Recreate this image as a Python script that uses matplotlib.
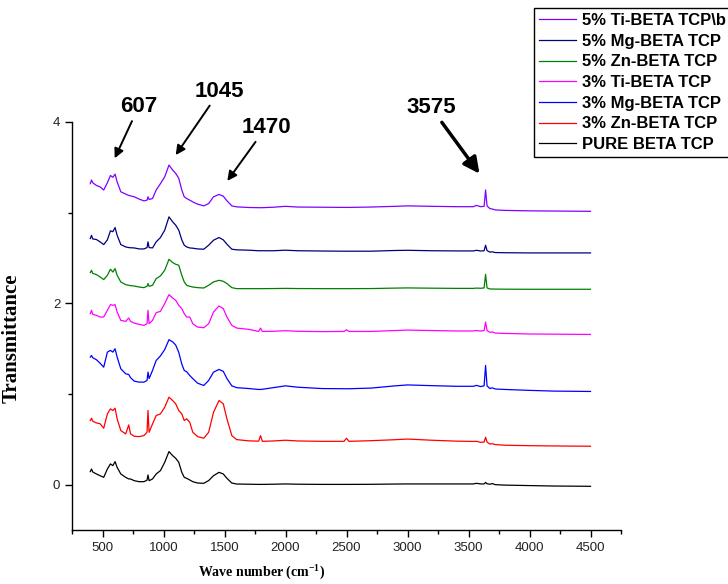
import matplotlib.pyplot as plt
from matplotlib.ticker import MultipleLocator

plt.rcParams['mathtext.fontset'] = 'custom'
plt.rcParams['mathtext.rm'] = 'Liberation Serif:bold'
plt.rcParams['mathtext.bf'] = 'Liberation Serif:bold'

# wave numbers (cm-1) shared by all spectra
wn = [400, 410, 420, 450, 480, 510, 540, 565, 585, 603,
      620, 650, 690, 715, 730, 760, 800, 840, 865, 873,
      882, 910, 940, 975, 1010, 1045, 1075, 1100, 1125, 1150,
      1170, 1190, 1215, 1240, 1280, 1330, 1370, 1410, 1455, 1490,
      1520, 1560, 1600, 1700, 1780, 1795, 1810, 1900, 2000, 2100,
      2300, 2480, 2500, 2520, 2700, 2900, 3000, 3200, 3400, 3540,
      3565, 3600, 3628, 3640, 3652, 3675, 3695, 3720, 3800, 4000,
      4200, 4500]

# stacked transmittance curves, as plotted
ti5 = [3.32, 3.36, 3.33, 3.30, 3.285, 3.25, 3.33, 3.41, 3.39, 3.425,
       3.34, 3.23, 3.205, 3.19, 3.185, 3.175, 3.15, 3.13, 3.138, 3.175,
       3.145, 3.156, 3.25, 3.32, 3.395, 3.525, 3.47, 3.433, 3.38, 3.25,
       3.175, 3.156, 3.138, 3.119, 3.094, 3.075, 3.10, 3.175, 3.201, 3.182,
       3.131, 3.075, 3.064, 3.057, 3.055, 3.055, 3.055, 3.06, 3.07, 3.062,
       3.06, 3.058, 3.058, 3.058, 3.062, 3.07, 3.075, 3.07, 3.066, 3.066,
       3.08, 3.066, 3.07, 3.25, 3.075, 3.045, 3.04, 3.03, 3.025, 3.02,
       3.018, 3.015]
mg5 = [2.715, 2.75, 2.71, 2.704, 2.678, 2.648, 2.70, 2.80, 2.79, 2.836,
       2.751, 2.648, 2.622, 2.615, 2.613, 2.611, 2.600, 2.600, 2.615, 2.678,
       2.615, 2.611, 2.678, 2.726, 2.807, 2.954, 2.899, 2.862, 2.807, 2.70,
       2.641, 2.622, 2.611, 2.608, 2.60, 2.597, 2.641, 2.696, 2.726, 2.70,
       2.652, 2.597, 2.590, 2.586, 2.58, 2.58, 2.58, 2.58, 2.586, 2.58,
       2.577, 2.575, 2.575, 2.575, 2.575, 2.583, 2.585, 2.58, 2.578, 2.578,
       2.585, 2.577, 2.58, 2.641, 2.582, 2.565, 2.568, 2.56, 2.558, 2.556,
       2.556, 2.556]
zn5 = [2.339, 2.365, 2.33, 2.317, 2.291, 2.262, 2.309, 2.376, 2.345, 2.383,
       2.309, 2.236, 2.206, 2.199, 2.195, 2.191, 2.180, 2.173, 2.188, 2.218,
       2.188, 2.199, 2.273, 2.302, 2.365, 2.486, 2.450, 2.431, 2.420, 2.309,
       2.236, 2.199, 2.188, 2.180, 2.173, 2.169, 2.199, 2.236, 2.254, 2.243,
       2.218, 2.173, 2.162, 2.162, 2.162, 2.162, 2.162, 2.163, 2.165, 2.163,
       2.162, 2.162, 2.162, 2.162, 2.163, 2.168, 2.17, 2.167, 2.165, 2.165,
       2.168, 2.166, 2.17, 2.32, 2.17, 2.158, 2.158, 2.157, 2.156, 2.155,
       2.155, 2.155]
ti3 = [1.886, 1.923, 1.88, 1.867, 1.849, 1.849, 1.923, 1.986, 1.978, 1.986,
       1.904, 1.812, 1.801, 1.838, 1.801, 1.782, 1.768, 1.757, 1.775, 1.923,
       1.775, 1.812, 1.897, 1.912, 1.997, 2.096, 2.059, 2.033, 1.978, 1.941,
       1.886, 1.849, 1.849, 1.775, 1.738, 1.731, 1.775, 1.904, 1.971, 1.941,
       1.849, 1.757, 1.727, 1.713, 1.69, 1.727, 1.69, 1.692, 1.698, 1.692,
       1.688, 1.69, 1.709, 1.69, 1.69, 1.70, 1.705, 1.70, 1.695, 1.695,
       1.70, 1.694, 1.70, 1.793, 1.70, 1.68, 1.685, 1.672, 1.668, 1.662,
       1.66, 1.657]
mg3 = [1.407, 1.425, 1.40, 1.378, 1.340, 1.296, 1.462, 1.481, 1.462, 1.499,
       1.407, 1.278, 1.223, 1.215, 1.18, 1.142, 1.131, 1.131, 1.149, 1.241,
       1.17, 1.26, 1.37, 1.42, 1.49, 1.599, 1.575, 1.54, 1.46, 1.33,
       1.26, 1.245, 1.204, 1.17, 1.119, 1.094, 1.149, 1.241, 1.271, 1.25,
       1.17, 1.09, 1.07, 1.06, 1.05, 1.05, 1.052, 1.07, 1.09, 1.075,
       1.06, 1.058, 1.058, 1.058, 1.065, 1.09, 1.10, 1.092, 1.085, 1.085,
       1.095, 1.082, 1.09, 1.315, 1.09, 1.06, 1.068, 1.055, 1.05, 1.04,
       1.032, 1.028]
zn3 = [0.707, 0.733, 0.70, 0.681, 0.672, 0.622, 0.781, 0.836, 0.818, 0.843,
       0.726, 0.597, 0.560, 0.659, 0.560, 0.534, 0.530, 0.541, 0.578, 0.818,
       0.578, 0.670, 0.762, 0.781, 0.854, 0.965, 0.928, 0.892, 0.818, 0.781,
       0.707, 0.726, 0.689, 0.578, 0.530, 0.512, 0.578, 0.799, 0.928, 0.892,
       0.726, 0.541, 0.497, 0.483, 0.48, 0.541, 0.478, 0.482, 0.49, 0.482,
       0.478, 0.478, 0.512, 0.478, 0.485, 0.496, 0.503, 0.49, 0.48, 0.477,
       0.478, 0.467, 0.47, 0.523, 0.47, 0.448, 0.452, 0.442, 0.435, 0.43,
       0.427, 0.424]
pure = [0.144, 0.173, 0.14, 0.118, 0.099, 0.081, 0.173, 0.229, 0.21, 0.254,
        0.191, 0.118, 0.081, 0.063, 0.063, 0.044, 0.033, 0.033, 0.05, 0.107,
        0.044, 0.063, 0.118, 0.155, 0.247, 0.365, 0.320, 0.291, 0.247, 0.136,
        0.081, 0.070, 0.052, 0.033, 0.018, 0.015, 0.045, 0.099, 0.136, 0.118,
        0.070, 0.018, 0.007, 0.005, 0.003, 0.003, 0.003, 0.005, 0.008, 0.005,
        0.003, 0.003, 0.003, 0.003, 0.004, 0.007, 0.008, 0.008, 0.008, 0.008,
        0.015, 0.008, 0.008, 0.025, 0.01, 0.005, 0.012, 0.0, -0.005, -0.01,
        -0.015, -0.018]

labels = ['5% Ti-BETA TCP\\b', '5% Mg-BETA TCP', '5% Zn-BETA TCP',
          '3% Ti-BETA TCP', '3% Mg-BETA TCP', '3% Zn-BETA TCP', 'PURE BETA TCP']
colors = ['#8000FF', '#000080', '#008000', '#FF00FF', '#0000FF', '#FF0000', '#000000']
series = [ti5, mg5, zn5, ti3, mg3, zn3, pure]

# peak labels: text, arrow tip (wn, T), text position (wn, T)
peak_txt = ['607', '1045', '1470', '3575']
peak_tip = [(600, 3.60), (1100, 3.635), (1523, 3.35), (3590, 3.43)]
peak_pos = [(797, 4.17), (1460, 4.34), (1840, 3.94), (3195, 4.155)]

fig = plt.figure(figsize=(7.28, 5.84), dpi=100)
ax = fig.add_axes([72/728, 1 - 530/584, 549/728, 408/584])

lines = []
for y, c, lab in zip(series, colors, labels):
    l, = ax.plot(wn, y, color=c, lw=0.9, label=lab)
    lines.append(l)

ax.set_xlim(250, 4750)
ax.set_ylim(-0.5, 4)
ax.xaxis.set_major_locator(MultipleLocator(500))
ax.xaxis.set_minor_locator(MultipleLocator(250))
ax.yaxis.set_major_locator(MultipleLocator(2))
ax.yaxis.set_minor_locator(MultipleLocator(1))
for s in ['top', 'right']:
    ax.spines[s].set_visible(False)
for s in ['left', 'bottom']:
    ax.spines[s].set_linewidth(1.0)
ax.tick_params(which='major', direction='out', length=5, width=1,
               labelsize=9.5, labelcolor='#222222')
ax.tick_params(which='minor', direction='out', length=3, width=1)
for t in ax.get_xticklabels() + ax.get_yticklabels():
    t.set_family('Liberation Sans')

ax.set_ylabel('Transmittance', fontsize=15, fontweight='bold', family='Liberation Serif')
ax.yaxis.set_label_coords(-0.091, 0.47)
ax.set_xlabel('Wave number (cm$^{-1}$)', fontsize=10, fontweight='bold', family='Liberation Serif')
ax.xaxis.set_label_coords(0.346, -0.079)

for txt, tip, pos in zip(peak_txt, peak_tip, peak_pos):
    big = txt == '3575'
    ax.annotate(txt, xy=tip, xytext=pos, ha='center', va='center',
                fontsize=16, fontweight='bold', family='Liberation Sans',
                arrowprops=dict(arrowstyle='-|>', color='black',
                                lw=2.5 if big else 1.4,
                                mutation_scale=24 if big else 14,
                                shrinkA=1, shrinkB=0),
                annotation_clip=False)

fig.legend(handles=lines, loc='upper left', bbox_to_anchor=(534/728, 1 - 8/584),
           prop={'family': 'Liberation Sans', 'weight': 'bold', 'size': 12},
           frameon=True, fancybox=False, edgecolor='black', framealpha=1,
           borderpad=0.3, labelspacing=0.34, handlelength=2.2,
           handletextpad=0.4, borderaxespad=0)

plt.savefig('out.png', dpi=100)
